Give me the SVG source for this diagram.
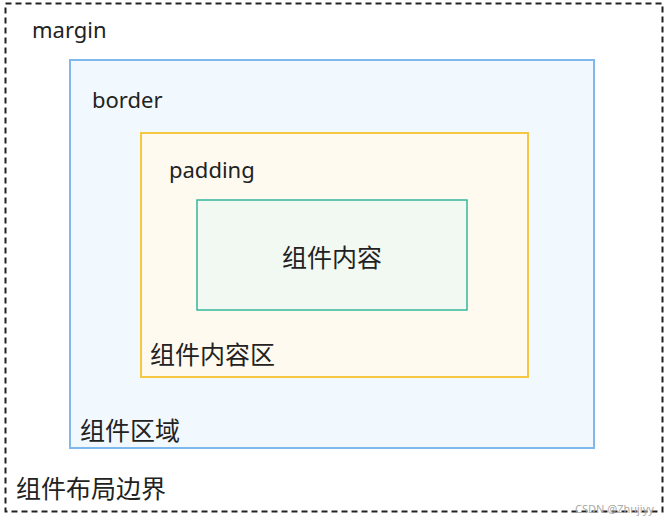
<svg xmlns="http://www.w3.org/2000/svg" width="665" height="522" viewBox="0 0 665 522">
<style>
text{font-family:"Noto Sans","Noto Sans CJK SC",sans-serif;fill:#222}
.en{font-size:22px}
.cn{font-size:25px}
</style>
<rect width="665" height="522" fill="#fff"/>
<g id="margin">
<rect x="5.5" y="3.5" width="657" height="508" fill="#fff" stroke="#222" stroke-width="2" stroke-dasharray="6,4"/>
<text class="en" x="32" y="38">margin</text>
<text class="cn" x="16" y="498">组件布局边界</text>
</g>
<g id="border">
<rect x="70" y="60" width="524" height="388" fill="#f1f8fe" stroke="#7fb8ec" stroke-width="2"/>
<text class="en" x="92" y="108">border</text>
<text class="cn" x="80" y="440">组件区域</text>
</g>
<g id="padding">
<rect x="141" y="133" width="387" height="244" fill="#fffaf0" stroke="#f5c842" stroke-width="2"/>
<text class="en" x="169" y="178">padding</text>
<text class="cn" x="150" y="364">组件内容区</text>
</g>
<g id="content">
<rect x="197" y="200" width="270" height="110" fill="#f2f9f3" stroke="#35b79a" stroke-width="1.5"/>
<text class="cn" x="332" y="267" text-anchor="middle">组件内容</text>
</g>
<g id="connectors"></g>
<text x="575" y="513" style="font-size:11px;fill:#aaa">CSDN @Zhujiyy</text>
</svg>
